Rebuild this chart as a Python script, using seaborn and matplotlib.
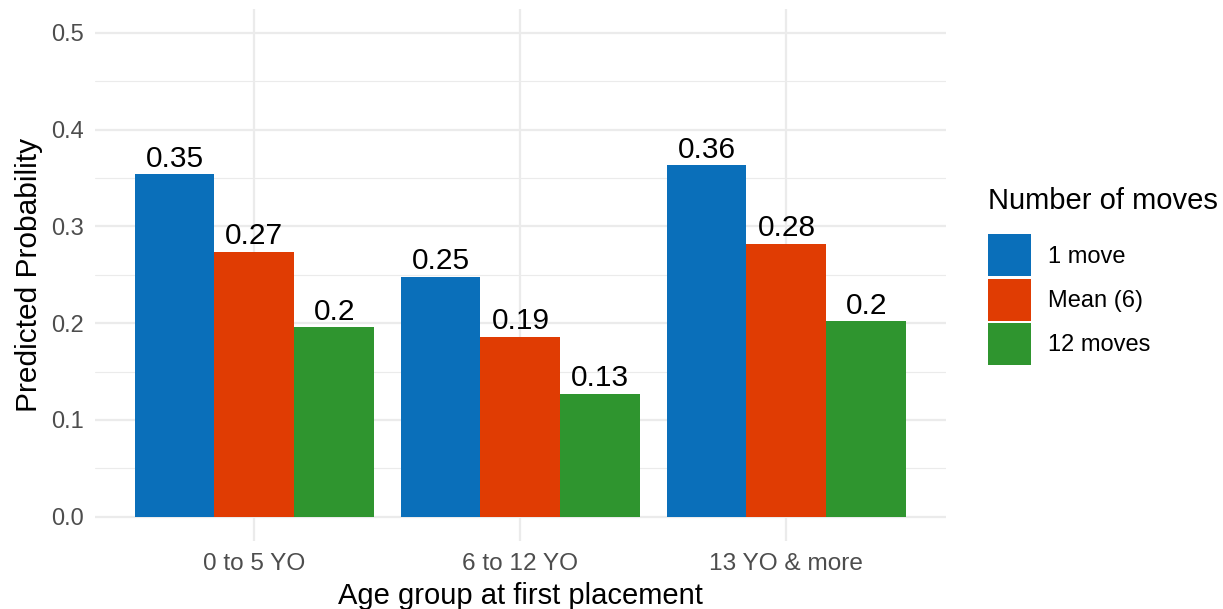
import numpy as np
import pandas as pd
import matplotlib
matplotlib.use('Agg')
import matplotlib.pyplot as plt
import seaborn as sns

# data
age_groups = ['0 to 5 YO', '6 to 12 YO', '13 YO & more']
move_levels = ['1 move', 'Mean (6)', '12 moves']
prob_1_move = [0.354, 0.248, 0.363]
prob_mean = [0.274, 0.186, 0.282]
prob_12_moves = [0.196, 0.127, 0.202]
colors = ['#0a6fba', '#e03c03', '#2f952f']

df = pd.DataFrame({
    'age': age_groups * 3,
    'moves': np.repeat(move_levels, 3),
    'prob': prob_1_move + prob_mean + prob_12_moves,
})

sns.set_style('white')
plt.rcParams['font.family'] = ['Liberation Sans', 'DejaVu Sans']
plt.rcParams['text.color'] = 'black'
plt.rcParams['axes.labelcolor'] = 'black'

fig = plt.figure(figsize=(12.23, 6.09), dpi=100)
ax = fig.add_axes([0.0775, 0.1117, 0.696, 0.8743])

sns.barplot(data=df, x='age', y='prob', hue='moves', order=age_groups,
            hue_order=move_levels, palette=colors, width=0.9, gap=0,
            saturation=1, linewidth=0, ax=ax, zorder=3)

# labels on the bars, rounded like R's round(x, 2)
for cont in ax.containers:
    labs = [f'{round(v, 2):g}' for v in cont.datavalues]
    ax.bar_label(cont, labels=labs, padding=1, fontsize=21.5, color='black')

ax.set_ylim(-0.025, 0.525)
ax.set_xlim(-0.6, 2.6)
ax.set_yticks([0, 0.1, 0.2, 0.3, 0.4, 0.5])
ax.set_yticklabels(['0.0', '0.1', '0.2', '0.3', '0.4', '0.5'])
ax.set_yticks(np.arange(0.05, 0.5, 0.1), minor=True)

ax.grid(True, which='major', color='#ebebeb', linewidth=1.6, zorder=0)
ax.grid(True, which='minor', axis='y', color='#ebebeb', linewidth=0.8, zorder=0)
ax.set_axisbelow(True)
for s in ax.spines.values():
    s.set_visible(False)
ax.tick_params(axis='both', which='both', length=0, labelsize=17,
               labelcolor='#4d4d4d')
ax.tick_params(axis='x', pad=9, labelsize=17.6)
ax.tick_params(axis='y', pad=8)

ax.set_xlabel('Age group at first placement', fontsize=21, labelpad=5)
ax.set_ylabel('Predicted Probability', fontsize=21.5, labelpad=6)

sns.move_legend(ax, 'upper left', bbox_to_anchor=(988 / 1223, 1 - 187 / 609),
                bbox_transform=fig.transFigure, frameon=False,
                title='Number of moves', title_fontsize=21, fontsize=17,
                handlelength=1.82, handleheight=2.36, labelspacing=0.1,
                handletextpad=0.72, borderpad=0, borderaxespad=0,
                alignment='left')
leg = ax.get_legend()
leg._legend_box.sep = 14
leg.get_title().set_color('black')
for t in leg.get_texts():
    t.set_color('black')
for h in leg.legend_handles:
    h.set_linewidth(0)

fig.savefig('out.png', dpi=100)
